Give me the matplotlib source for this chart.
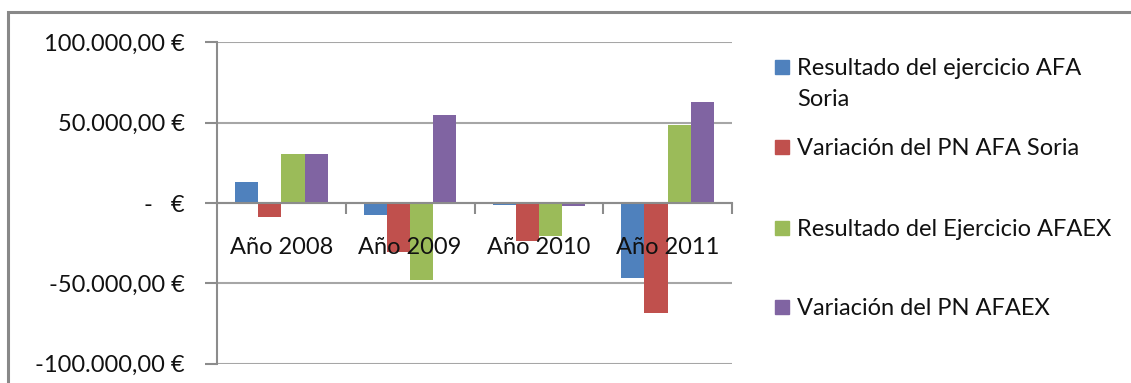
import matplotlib
matplotlib.use("Agg")
import matplotlib.pyplot as plt
from matplotlib.patches import Rectangle
from matplotlib.ticker import FixedLocator, FuncFormatter, NullLocator

# ---- data -------------------------------------------------------------
categories = ["Año 2008", "Año 2009", "Año 2010", "Año 2011"]
series_names = [
    "Resultado del ejercicio AFA Soria",
    "Variación del PN AFA Soria",
    "Resultado del Ejercicio AFAEX",
    "Variación del PN AFAEX",
]
resultado_afa_soria = [13300, -7700, -1400, -46700]
variacion_pn_afa_soria = [-8600, -30600, -23600, -68300]
resultado_afaex = [30400, -48000, -20300, 48600]
variacion_pn_afaex = [30400, 54900, -2100, 63100]
y_ticks = [-100000, -50000, 0, 50000, 100000]

series_values = [resultado_afa_soria, variacion_pn_afa_soria,
                 resultado_afaex, variacion_pn_afaex]
colors = ["#4F81BD", "#C0504D", "#9BBB59", "#8064A2"]

# ---- figure -----------------------------------------------------------
W, H = 1131, 383
DPI = 100
plt.rcParams["font.family"] = ["Lato", "DejaVu Sans"]
fig = plt.figure(figsize=(W / DPI, H / DPI), dpi=DPI)
fig.patch.set_facecolor("white")

def px(x, y):
    """pixel position (from top-left) -> figure fraction"""
    return x / W, 1 - y / H

ax_left, ax_right = 217, 732
ax_top, ax_bottom = 42.4, 363.6
ax = fig.add_axes([ax_left / W, 1 - ax_bottom / H,
                   (ax_right - ax_left) / W, (ax_bottom - ax_top) / H])

grid_col = "#A6A6A6"
axis_col = "#8C8C8C"
text_col = "#111111"
fs = 17

bar_w = 0.18
n = len(series_values)
for k, (vals, col) in enumerate(zip(series_values, colors)):
    xs = [i + (k - (n - 1) / 2) * bar_w for i in range(len(categories))]
    ax.bar(xs, vals, width=bar_w, color=col, edgecolor="none", zorder=2)

ax.set_xlim(-0.5, len(categories) - 0.5)
ax.set_ylim(y_ticks[0], y_ticks[-1])

# y axis: euro amounts in Spanish number format
def euro(v, _pos=None):
    if v == 0:
        return "-   €"
    s = f"{abs(v):,.2f}".replace(",", "X").replace(".", ",").replace("X", ".")
    return ("-" if v < 0 else "") + s + " €"

ax.yaxis.set_major_locator(FixedLocator(y_ticks))
ax.yaxis.set_major_formatter(FuncFormatter(euro))
ax.tick_params(axis="y", length=9, width=1.5, color=axis_col,
               labelsize=fs, labelcolor=text_col, pad=14.4)
ax.yaxis.grid(True, color=grid_col, linewidth=1.5, zorder=0)
ax.set_axisbelow(True)

# x axis sits on zero with ticks between categories
ax.spines["bottom"].set_position(("data", 0))
ax.xaxis.set_major_locator(NullLocator())
ax.xaxis.set_minor_locator(FixedLocator([i + 0.5 for i in range(len(categories))]))
ax.tick_params(axis="x", which="minor", length=8, width=1.5, color=axis_col,
               direction="out")
for side in ["top", "right"]:
    ax.spines[side].set_visible(False)
for side in ["bottom", "left"]:
    ax.spines[side].set_color(axis_col)
    ax.spines[side].set_linewidth(1.5)

# category labels just under the zero line, drawn over the bars
for i, cat in enumerate(categories):
    ax.annotate(cat, xy=(i, 0), xytext=(0, -51.5 * 72 / DPI),
                textcoords="offset points", ha="center", va="baseline",
                fontsize=fs, color=text_col, zorder=5)

# legend
legend_rows = [67, 147, 228, 307]
for name, col, yc in zip(series_names, colors, legend_rows):
    x0, y0 = px(775, yc + 7)
    fig.patches.append(Rectangle((x0, y0), 14 / W, 14 / H,
                                 transform=fig.transFigure, color=col))
    if name == series_names[0]:
        tx, ty = px(797, yc + 8)
        fig.text(tx, ty, "Resultado del ejercicio AFA", fontsize=fs,
                 color=text_col, va="baseline", ha="left")
        tx, ty = px(797, yc + 39)
        fig.text(tx, ty, "Soria", fontsize=fs, color=text_col,
                 va="baseline", ha="left")
    else:
        tx, ty = px(797, yc + 8)
        fig.text(tx, ty, name, fontsize=fs, color=text_col,
                 va="baseline", ha="left")

# chart-area frame
fx, fy = px(8, 12)
fig.patches.append(Rectangle((fx, -0.2), 1.2, fy + 0.2,
                             transform=fig.transFigure, fill=False,
                             edgecolor="#888888", linewidth=2.2))

fig.savefig("out.png", dpi=DPI)
